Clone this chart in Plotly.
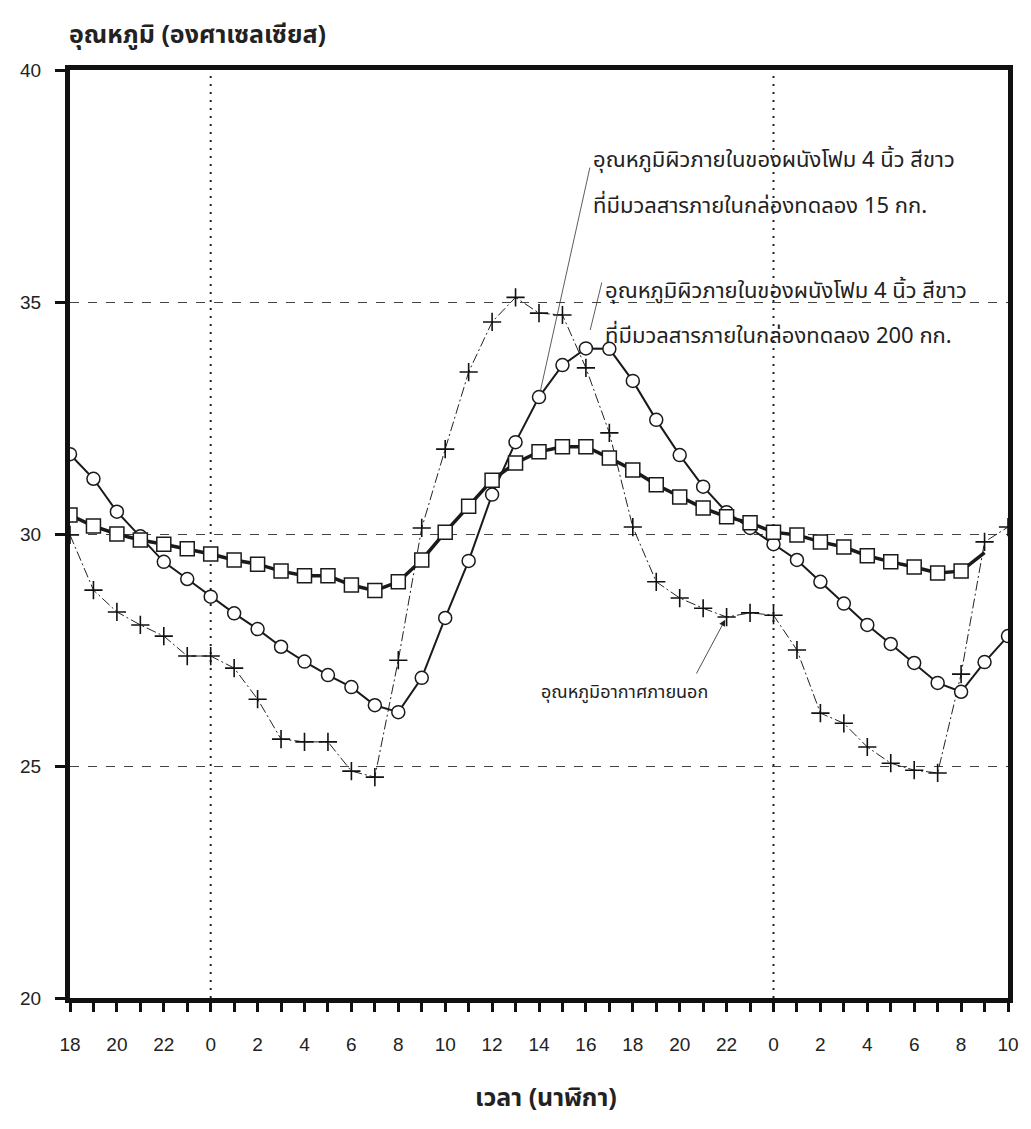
import plotly.graph_objects as go

# ---- data -------------------------------------------------------------
clock_hour = [18, 19, 20, 21, 22, 23, 0, 1, 2, 3, 4, 5, 6, 7, 8, 9, 10, 11,
              12, 13, 14, 15, 16, 17, 18, 19, 20, 21, 22, 23, 0, 1, 2, 3, 4,
              5, 6, 7, 8, 9, 10]
elapsed = list(range(len(clock_hour)))

wall_15kg = [31.72, 31.19, 30.48, 29.95, 29.40, 29.03, 28.65, 28.29, 27.95,
             27.57, 27.25, 26.96, 26.70, 26.31, 26.16, 26.90, 28.19, 29.42,
             30.85, 31.98, 32.95, 33.64, 34.00, 33.99, 33.30, 32.46, 31.70,
             31.02, 30.47, 30.13, 29.78, 29.44, 28.97, 28.50, 28.04, 27.63,
             27.22, 26.79, 26.60, 27.24, 27.80]

wall_200kg = [30.41, 30.17, 30.00, 29.87, 29.78, 29.68, 29.57, 29.44, 29.35,
              29.20, 29.10, 29.10, 28.90, 28.78, 28.97, 29.44, 30.04, 30.60,
              31.16, 31.53, 31.77, 31.88, 31.88, 31.64, 31.38, 31.06, 30.80,
              30.56, 30.37, 30.24, 30.04, 29.98, 29.83, 29.72, 29.53, 29.40,
              29.29, 29.16, 29.20, 29.60]

air_outside = [29.98, 28.79, 28.32, 28.04, 27.80, 27.37, 27.37, 27.11, 26.44,
               25.58, 25.52, 25.52, 24.89, 24.76, 27.28, 30.13, 31.83, 33.49,
               34.57, 35.10, 34.76, 34.72, 33.58, 32.18, 30.15, 28.97, 28.62,
               28.40, 28.21, 28.30, 28.25, 27.50, 26.14, 25.92, 25.41, 25.06,
               24.91, 24.85, 26.98, 29.83, 30.15]

y_ticks = [20, 25, 30, 35, 40]

label_15kg = ["อุณหภูมิผิวภายในของผนังโฟม 4 นิ้ว สีขาว",
              "ที่มีมวลสารภายในกล่องทดลอง 15 กก."]
label_200kg = ["อุณหภูมิผิวภายในของผนังโฟม 4 นิ้ว สีขาว",
               "ที่มีมวลสารภายในกล่องทดลอง 200 กก."]
label_air = "อุณหภูมิอากาศภายนอก"
y_title = "อุณหภูมิ (องศาเซลเซียส)"
x_title = "เวลา (นาฬิกา)"

# ---- figure -----------------------------------------------------------
THAI = "Noto Sans Thai, Loma, Garuda, Tlwg Typo, Noto Sans, DejaVu Sans, sans-serif"
NUM = "Liberation Sans, Arial, sans-serif"

fig = go.Figure()

fig.add_trace(go.Scatter(
    x=elapsed, y=air_outside, mode="lines+markers",
    line=dict(color="#222", width=1, dash="10px,3px,2px,3px"),
    marker=dict(symbol="cross-thin", size=13, color="#111",
                line=dict(color="#111", width=1.6)),
    name="air"))

fig.add_trace(go.Scatter(
    x=elapsed, y=wall_15kg, mode="lines+markers",
    line=dict(color="#1a1a1a", width=2),
    marker=dict(symbol="circle", size=13, color="#ffffff", opacity=1,
                line=dict(color="#1a1a1a", width=1.5)),
    name="15kg"))

sq_sizes = [14] * (len(wall_200kg) - 1) + [0]
fig.add_trace(go.Scatter(
    x=elapsed[:len(wall_200kg)], y=wall_200kg, mode="lines+markers",
    line=dict(color="#1a1a1a", width=3.5),
    marker=dict(symbol="square", size=sq_sizes, color="#ffffff", opacity=1,
                line=dict(color="#1a1a1a", width=1.5)),
    name="200kg"))

# vertical dotted lines at midnight
for i, h in enumerate(clock_hour):
    if h == 0:
        fig.add_shape(type="line", xref="x", yref="y", x0=elapsed[i], x1=elapsed[i],
                      y0=y_ticks[0], y1=y_ticks[-1], layer="below",
                      line=dict(color="#222", width=2, dash="2px,6px"))

tick_text = [str(h) if i % 2 == 0 else "" for i, h in enumerate(clock_hour)]

fig.update_xaxes(range=[elapsed[0], elapsed[-1]], tickmode="array",
                 tickvals=elapsed, ticktext=tick_text, ticks="outside",
                 ticklen=9, tickwidth=3, tickcolor="#111",
                 showline=True, linewidth=5, linecolor="#111", mirror=True,
                 showgrid=False, zeroline=False,
                 tickfont=dict(family=NUM, size=19, color="#222"),
                 ticklabelstandoff=16)
fig.update_yaxes(range=[y_ticks[0], y_ticks[-1]], tickmode="array",
                 tickvals=y_ticks, ticks="outside", ticklen=10, tickwidth=3,
                 tickcolor="#111", showline=True, linewidth=5,
                 linecolor="#111", mirror=True,
                 showgrid=True, gridcolor="#444", gridwidth=1, griddash="dash",
                 zeroline=False,
                 tickfont=dict(family=NUM, size=19, color="#222"),
                 ticklabelstandoff=10)

def px_x(p):
    return (p - 67) / 943 * (elapsed[-1] - elapsed[0]) + elapsed[0]

def px_y(p):
    return y_ticks[0] + (998 - p) / 928 * (y_ticks[-1] - y_ticks[0])

ann = []
txt_font = dict(family=THAI, size=22, color="#222")
for k, line in enumerate(label_15kg):
    ann.append(dict(x=px_x(591), y=px_y([160, 206][k]), xref="x", yref="y",
                    text=line, showarrow=False, xanchor="left",
                    yanchor="middle", font=txt_font))
for k, line in enumerate(label_200kg):
    ann.append(dict(x=px_x(603), y=px_y([291, 336][k]), xref="x", yref="y",
                    text=line, showarrow=False, xanchor="left",
                    yanchor="middle", font=txt_font))
ann.append(dict(x=px_x(710), y=px_y(692), xref="x", yref="y", text=label_air,
                showarrow=False, xanchor="right", yanchor="middle",
                font=dict(family=THAI, size=18, color="#222")))

# leader lines
ann.append(dict(x=elapsed[20], y=wall_15kg[20], ax=px_x(590), ay=px_y(166),
                xref="x", yref="y", axref="x", ayref="y", text="",
                showarrow=True, arrowhead=0, arrowwidth=0.8,
                arrowcolor="#333", standoff=6))
ann.append(dict(x=px_x(590), y=px_y(330), ax=px_x(602), ay=px_y(281),
                xref="x", yref="y", axref="x", ayref="y", text="",
                showarrow=True, arrowhead=0, arrowwidth=0.8,
                arrowcolor="#333"))
ann.append(dict(x=elapsed[28], y=air_outside[28], ax=px_x(696), ay=px_y(675),
                xref="x", yref="y", axref="x", ayref="y", text="",
                showarrow=True, arrowhead=2, arrowsize=1.6, arrowwidth=0.8,
                arrowcolor="#222", standoff=3))

# axis titles
ann.append(dict(x=0, y=1, xref="paper", yref="paper", text=f"<b>{y_title}</b>",
                showarrow=False, xanchor="left", yanchor="middle",
                xshift=-3, yshift=35,
                font=dict(family=THAI, size=25, color="#222")))
ann.append(dict(x=0.507, y=0, xref="paper", yref="paper",
                text=f"<b>{x_title}</b>", showarrow=False, xanchor="center",
                yanchor="middle", yshift=-100,
                font=dict(family=THAI, size=25, color="#222")))

# page body adds an 8px margin: shrink the figure so the plot area lands
# at the same window pixels as the reference
fig.update_layout(width=1023, height=1121,
                  margin=dict(l=59, r=21, t=62, b=131),
                  paper_bgcolor="white", plot_bgcolor="white",
                  showlegend=False, annotations=ann)

fig.write_html("out.html")
